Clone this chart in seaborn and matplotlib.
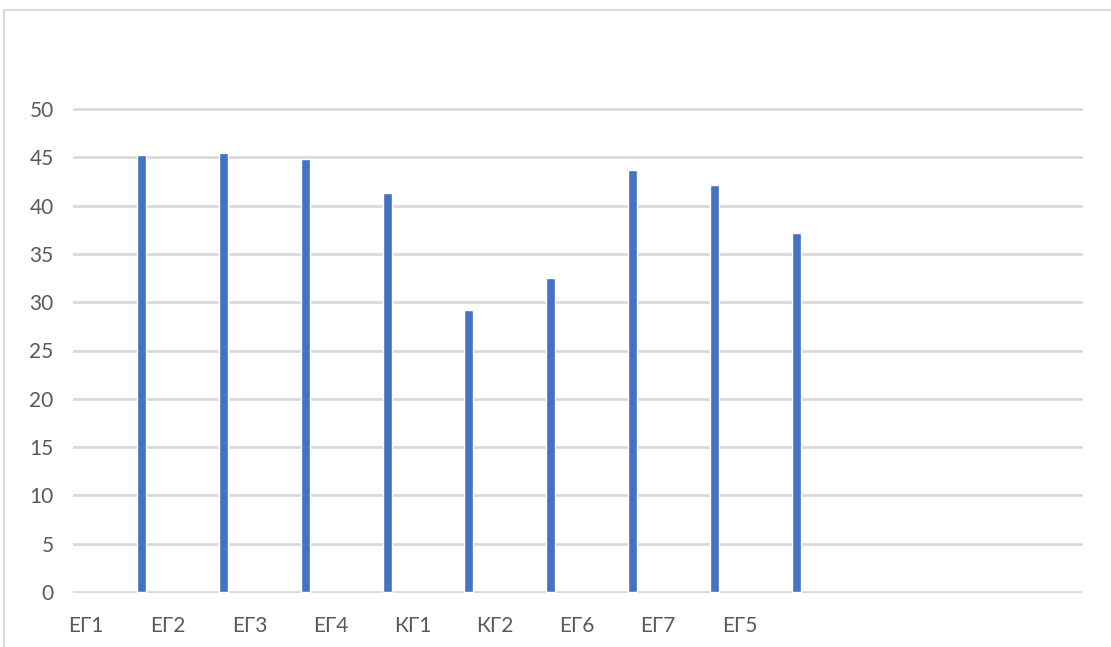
import numpy as np
import pandas as pd
import seaborn as sns
import matplotlib.pyplot as plt
from matplotlib.patches import Rectangle

# data
groups = ["ЕГ1", "ЕГ2", "ЕГ3", "ЕГ4", "КГ1", "КГ2", "ЕГ6", "ЕГ7", "ЕГ5"]
values = [45.2, 45.4, 44.8, 41.3, 29.2, 32.5, 43.7, 42.1, 37.2]
yticks = [0, 5, 10, 15, 20, 25, 30, 35, 40, 45, 50]

df = pd.DataFrame({"group": groups, "value": values})

sns.set_theme(style="white")
plt.rcParams['font.family'] = ['Lato', 'DejaVu Sans']

W, H = 1111, 647
fig = plt.figure(figsize=(W / 100, H / 100), dpi=100)

# outer chart frame (cropped on right/bottom like the screenshot)
fig.patches.append(Rectangle((4 / W, -0.05), 1.2, 1 - 10 / H + 0.05,
                             transform=fig.transFigure, fill=False,
                             edgecolor="#d9d9d9", linewidth=1.5))

# plot area in pixels
left, right = 73, 1083
y0_px, y50_px = 592, 109
ymin, ymax = -0.15, 50.15
ppu = (y0_px - y50_px) / 50
bottom_px = y0_px + (0 - ymin) * ppu
top_px = y50_px - (ymax - 50) * ppu
ax = fig.add_axes([left / W, 1 - bottom_px / H, (right - left) / W, (bottom_px - top_px) / H])

sns.barplot(data=df, x="group", y="value", color="#4472C4", width=0.11,
            saturation=1, ax=ax, zorder=3)

ax.set_ylim(ymin, ymax)
ax.set_xlim(-0.843, 11.51)
ax.set_yticks(yticks)
ax.yaxis.grid(True, color="#d9d9d9", linewidth=2)
ax.set_axisbelow(True)

# category labels sit left of the bars, as in the original
ax.set_xticks(np.arange(len(groups)) - 0.685)
ax.set_xticklabels(groups)
ax.tick_params(axis="x", length=0, pad=16, labelsize=15, labelcolor="#595959")
ax.tick_params(axis="y", length=0, pad=14, labelsize=15, labelcolor="#595959")
ax.set_xlabel("")
ax.set_ylabel("")
for s in ax.spines.values():
    s.set_visible(False)

fig.savefig("out.png", dpi=100)
